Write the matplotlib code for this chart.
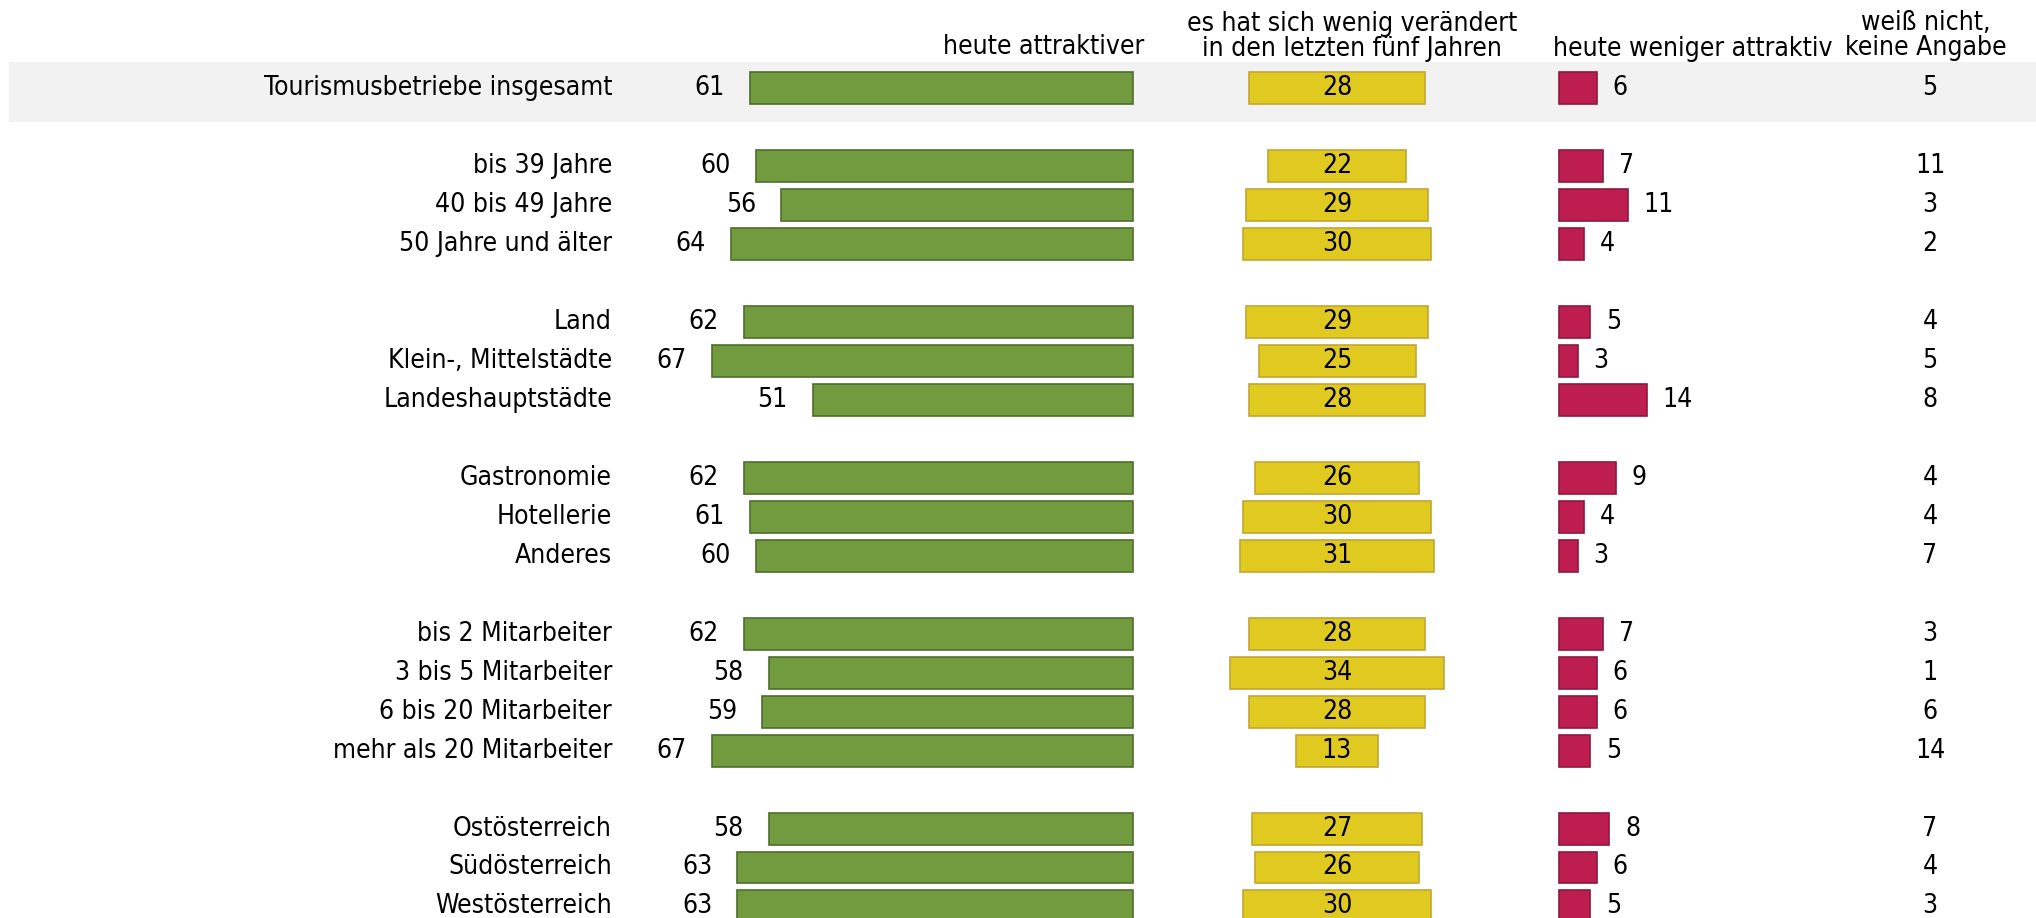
import numpy as np
import matplotlib
matplotlib.use("Agg")
from matplotlib import pyplot as plt

# DejaVu Sans Condensed is the closest narrow face available
plt.rcParams['font.family'] = ['DejaVu Sans']
plt.rcParams['font.stretch'] = 'condensed'

labels = ["Tourismusbetriebe insgesamt",
          "bis 39 Jahre", "40 bis 49 Jahre", "50 Jahre und älter",
          "Land", "Klein-, Mittelstädte", "Landeshauptstädte",
          "Gastronomie", "Hotellerie", "Anderes",
          "bis 2 Mitarbeiter", "3 bis 5 Mitarbeiter", "6 bis 20 Mitarbeiter",
          "mehr als 20 Mitarbeiter",
          "Ostösterreich", "Südösterreich", "Westösterreich"]
group_sizes = [1, 3, 3, 3, 4, 3]

attraktiver = [61, 60, 56, 64, 62, 67, 51, 62, 61, 60, 62, 58, 59, 67, 58, 63, 63]
wenig_veraendert = [28, 22, 29, 30, 29, 25, 28, 26, 30, 31, 28, 34, 28, 13, 27, 26, 30]
weniger_attraktiv = [6, 7, 11, 4, 5, 3, 14, 9, 4, 3, 7, 6, 6, 5, 8, 6, 5]
weiss_nicht = [5, 11, 3, 2, 4, 5, 8, 4, 4, 7, 3, 1, 6, 14, 7, 4, 3]

headers = ["heute attraktiver",
           "es hat sich wenig verändert\nin den letzten fünf Jahren",
           "heute weniger attraktiv",
           "weiß nicht,\nkeine Angabe"]

# row positions: one empty row between groups
ypos = []
y = 0
for g in group_sizes:
    for k in range(g):
        ypos.append(y)
        y += 1
    y += 1
ypos = np.array(ypos)

# layout in percent units (1 unit ~ 6.28 px)
px = 6.28
green_right = 1133 / px
yellow_mid = 1337 / px
red_left = 1559 / px
last_col = 1930 / px
label_right = 612 / px

fig = plt.figure(figsize=(20.36, 9.18), dpi=100)
ax = fig.add_axes([0, 0, 1, 1])
ax.set_xlim(0, 2036 / px)
row_px = 38.96
ax.set_ylim((918 - 88.3) / row_px, -88.3 / row_px)
ax.axis('off')

fs = 19
h = 0.82

# grey band behind total row
ax.axhspan(-0.67, 0.87, xmin=9 / 2036, xmax=1, color='#f2f2f2', zorder=0, lw=0)

a = np.array(attraktiver)
w = np.array(wenig_veraendert)
r = np.array(weniger_attraktiv)

ax.barh(ypos, a, left=green_right - a, height=h, color='#719b3e',
        edgecolor='#4e6e2b', linewidth=1.2, zorder=2)
ax.barh(ypos, w, left=yellow_mid - w / 2, height=h, color='#e0ca20',
        edgecolor='#c4a634', linewidth=1.2, zorder=2)
ax.barh(ypos, r, left=red_left, height=h, color='#be1e4f',
        edgecolor='#8f1840', linewidth=1.2, zorder=2)

for i, yy in enumerate(ypos):
    ax.text(label_right, yy, labels[i], ha='right', va='center', fontsize=fs)
    ax.text(green_right - a[i] - 4, yy, str(a[i]), ha='right', va='center', fontsize=fs)
    ax.text(yellow_mid, yy, str(w[i]), ha='center', va='center', fontsize=fs, zorder=3)
    ax.text(red_left + r[i] + 2.5, yy, str(r[i]), ha='left', va='center', fontsize=fs)
    ax.text(last_col, yy, str(weiss_nicht[i]), ha='center', va='center', fontsize=fs)

ax.text(1144 / px, -1.07, headers[0], ha='right', va='center', fontsize=fs)
ax.text(1352 / px, -1.33, headers[1], ha='center', va='center', fontsize=fs,
        linespacing=0.95)
ax.text(1553 / px, -1.02, headers[2], ha='left', va='center', fontsize=fs)
ax.text(1926 / px, -1.36, headers[3], ha='center', va='center', fontsize=fs,
        linespacing=0.95)

fig.savefig("out.png", dpi=100, facecolor='white')
